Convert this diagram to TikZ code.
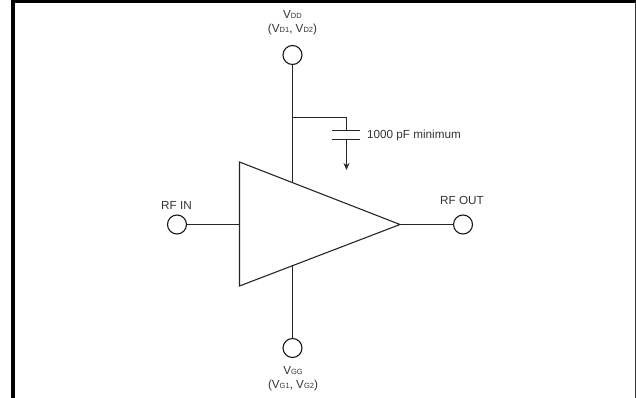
\documentclass[tikz,border=0pt]{standalone}
\usepackage{fontspec}
\setmainfont{Liberation Sans}
\usetikzlibrary{arrows.meta,calc}
\newcommand{\lbl}[2]{#1{\fontsize{7.5pt}{8pt}\selectfont #2}}
\tikzset{
  x=1pt,y=-1pt,
  wire/.style={draw=black!85,line width=1.1pt},
  port/.style={circle,draw=black!90,line width=1.1pt,fill=white,minimum size=19pt,inner sep=0pt},
  txt/.style={inner sep=0pt,font=\fontsize{11.7pt}{14.5pt}\selectfont,text=black!80,align=center},
  frameline/.style={draw=black,line cap=butt},
  plate/.style={draw=black!85,line width=1.1pt},
}
\begin{document}
\begin{tikzpicture}
\useasboundingbox (0,0) rectangle (636,398);
% frame
\coordinate (fa) at (13,398);
\coordinate (fb) at (13,1.7);
\coordinate (fc) at (635.5,1.7);
\coordinate (fd) at (635.5,398);
\draw[frameline,line width=3.4pt] (fa) -- (fb);
\draw[frameline,line width=3.4pt] (11.3,1.7) -- (fc);
\draw[frameline,draw=black!80,line width=1.4pt] (fc) -- (fd);
% amplifier corners and contact points
\coordinate (ampA) at (239.5,162);
\coordinate (ampB) at (239.5,286);
\coordinate (ampC) at (400,224.5);
\coordinate (ampIn) at (239.5,224.5);
\coordinate (ampTop) at (292.5,182.6);
\coordinate (ampBot) at (292.5,265.6);
% ports
\node[port] (vdd) at (292.5,55) {};
\node[port] (vgg) at (292.5,348) {};
\node[port] (rfin) at (177,224.5) {};
\node[port] (rfout) at (463,224.5) {};
% capacitor branch
\coordinate (tee) at (292.5,117.5);
\coordinate (corner) at (346.5,117.5);
\coordinate (capT) at (346.5,130.5);
\coordinate (capB) at (346.5,139.5);
\coordinate (capTL) at (332,130.5);
\coordinate (capTR) at (360,130.5);
\coordinate (capBL) at (332,139.5);
\coordinate (capBR) at (360,139.5);
\coordinate (gnd) at (346.5,170);
% wires
\draw[wire] (vdd) -- (ampTop);
\draw[wire] (vgg) -- (ampBot);
\draw[wire] (rfin) -- (ampIn);
\draw[wire] (ampC) -- (rfout);
\draw[wire] (tee) -- (corner) -- (capT);
\draw[plate] (capTL) -- (capTR);
\draw[plate] (capBL) -- (capBR);
\draw[wire,-{Stealth[length=7pt,width=6pt]}] (capB) -- (gnd);
\draw[wire] (ampA) -- (ampC) -- (ampB) -- cycle;
% labels
\node[txt] (lvdd) at (292.5,22.5) {\lbl{V}{DD}\\(\lbl{V}{D1}, \lbl{V}{D2})};
\node[txt] (lvgg) at (293,378.5) {\lbl{V}{GG}\\(\lbl{V}{G1}, \lbl{V}{G2})};
\node[txt] (lin) at (176.5,205) {RF IN};
\node[txt] (lout) at (462,200.5) {RF OUT};
\node[txt] (lcap) at (414,135) {1000 pF minimum};
\end{tikzpicture}
\end{document}
